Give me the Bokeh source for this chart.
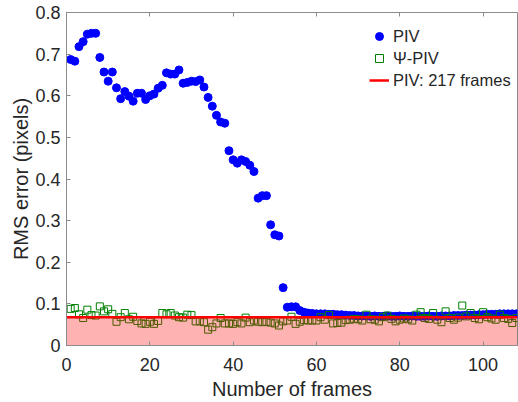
from bokeh.plotting import figure
from bokeh.models import (LinearAxis, FixedTicker, Range1d, Legend, LegendItem,
                          ColumnDataSource, CustomJSTickFormatter)
from bokeh.embed import file_html
from bokeh.resources import INLINE

frames = list(range(1, 109))

piv = [0.687, 0.683, 0.718, 0.730, 0.748, 0.750, 0.750, 0.692, 0.657, 0.635,
       0.657, 0.619, 0.593, 0.610, 0.599, 0.587, 0.606, 0.606, 0.591, 0.600,
       0.604, 0.618, 0.625, 0.655, 0.652, 0.652, 0.662, 0.630, 0.632, 0.635,
       0.634, 0.638, 0.621, 0.596, 0.575, 0.553, 0.537, 0.534, 0.468, 0.446,
       0.438, 0.446, 0.442, 0.433, 0.418, 0.354, 0.360, 0.360, 0.290, 0.266,
       0.263, 0.139, 0.092, 0.093, 0.093, 0.084, 0.080, 0.078, 0.077, 0.076,
       0.076, 0.076, 0.075, 0.075, 0.074, 0.074, 0.073, 0.072, 0.072, 0.071,
       0.071, 0.071, 0.070, 0.071, 0.070, 0.070, 0.071, 0.070, 0.070, 0.071,
       0.070, 0.070, 0.071, 0.070, 0.070, 0.070, 0.071, 0.070, 0.070, 0.071,
       0.071, 0.071, 0.072, 0.072, 0.072, 0.073, 0.073, 0.073, 0.074, 0.074,
       0.075, 0.075, 0.075, 0.076, 0.076, 0.076, 0.076, 0.076]

psi_piv = [0.088, 0.090, 0.075, 0.066, 0.086, 0.073, 0.072, 0.094, 0.082, 0.087,
           0.076, 0.057, 0.068, 0.078, 0.063, 0.069, 0.059, 0.053, 0.052, 0.057,
           0.052, 0.059, 0.078, 0.075, 0.078, 0.072, 0.068, 0.067, 0.074, 0.073,
           0.058, 0.058, 0.056, 0.038, 0.044, 0.053, 0.066, 0.053, 0.053, 0.052,
           0.056, 0.053, 0.067, 0.056, 0.060, 0.057, 0.056, 0.057, 0.055, 0.053,
           0.048, 0.058, 0.060, 0.069, 0.052, 0.057, 0.061, 0.060, 0.060, 0.060,
           0.068, 0.062, 0.073, 0.053, 0.054, 0.055, 0.061, 0.062, 0.064, 0.063,
           0.060, 0.074, 0.063, 0.062, 0.058, 0.068, 0.072, 0.064, 0.058, 0.062,
           0.065, 0.063, 0.060, 0.074, 0.080, 0.066, 0.064, 0.078, 0.062, 0.056,
           0.082, 0.066, 0.062, 0.067, 0.096, 0.070, 0.078, 0.066, 0.063, 0.080,
           0.068, 0.065, 0.062, 0.074, 0.066, 0.064, 0.054, 0.066]

piv_217 = 0.068
x_ticks = [0, 20, 40, 60, 80, 100]
y_ticks = [0, 0.1, 0.2, 0.3, 0.4, 0.5, 0.6, 0.7, 0.8]

FONT = "Liberation Sans"
TXT = "#262626"
AX = "#8c8c8c"

p = figure(width=518, height=402, output_backend="svg", toolbar_location=None,
           x_range=Range1d(0, 108.26), y_range=Range1d(0, 0.8),
           min_border_left=66, min_border_right=1, min_border_top=12,
           min_border_bottom=10)
p.background_fill_color = "white"
p.border_fill_color = "white"
p.outline_line_color = AX
p.grid.visible = False

src = ColumnDataSource(dict(x=frames, piv=piv, psi=psi_piv))

r_piv = p.scatter("x", "piv", source=src, marker="circle", size=8,
                  fill_color="#0000ff", line_color="#0000ff")
r_psi = p.scatter("x", "psi", source=src, marker="square", size=7,
                  fill_color=None, line_color="#008000", line_width=1)
p.varea(x=[0, 108.26], y1=[0, 0], y2=[piv_217, piv_217],
        fill_color="#ff0000", fill_alpha=0.3)
r_line = p.line(x=[0, 108.26], y=[piv_217, piv_217], line_color="#ff0000",
                line_width=2.5)

for ax in (p.xaxis[0], p.yaxis[0]):
    ax.axis_line_color = AX
    ax.major_tick_line_color = AX
    ax.major_tick_in = 4
    ax.major_tick_out = 0
    ax.minor_tick_line_color = None
    ax.major_label_text_font = FONT
    ax.major_label_text_font_size = "18px"
    ax.major_label_text_color = TXT
    ax.axis_label_text_font = FONT
    ax.axis_label_text_font_size = "20px"
    ax.axis_label_text_color = TXT
    ax.axis_label_text_font_style = "normal"

p.xaxis[0].ticker = FixedTicker(ticks=x_ticks)
p.yaxis[0].ticker = FixedTicker(ticks=y_ticks)
p.yaxis[0].formatter = CustomJSTickFormatter(code="return tick == 0 ? '0' : tick.toFixed(1);")
p.xaxis[0].axis_label = "Number of frames"
p.yaxis[0].axis_label = "RMS error (pixels)"
p.xaxis[0].major_label_standoff = 12
p.yaxis[0].major_label_standoff = 6
p.xaxis[0].axis_label_standoff = 4
p.yaxis[0].axis_label_standoff = 0

top = LinearAxis(ticker=FixedTicker(ticks=x_ticks),
                 formatter=CustomJSTickFormatter(code="return '';"),
                 axis_line_color=None, major_tick_line_color=AX,
                 major_tick_in=4, major_tick_out=0, minor_tick_line_color=None,
                 major_label_text_font_size="0px", major_label_standoff=0)
p.add_layout(top, "above")

legend = Legend(items=[LegendItem(label="PIV", renderers=[r_piv]),
                       LegendItem(label="Ψ-PIV", renderers=[r_psi]),
                       LegendItem(label="PIV: 217 frames", renderers=[r_line])],
                location=(303, 254), padding=0, margin=0, spacing=0,
                label_height=22, glyph_height=22, glyph_width=20,
                label_standoff=4,
                label_text_font=FONT, label_text_font_size="16.5px",
                label_text_color=TXT,
                border_line_alpha=0, background_fill_alpha=0)
p.add_layout(legend, "center")

open("out.html", "w").write(file_html(p, INLINE))
